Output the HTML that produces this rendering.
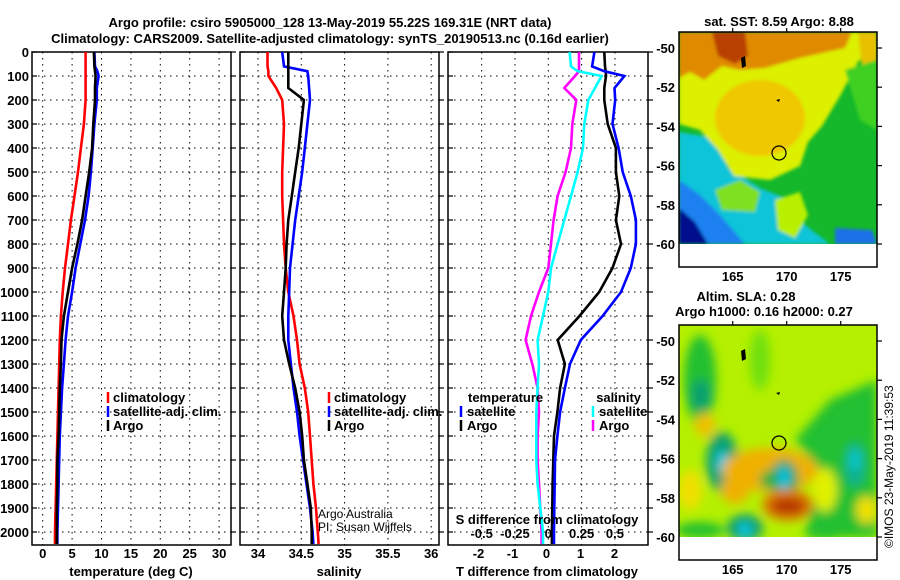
<!DOCTYPE html>
<html><head><meta charset="utf-8"><style>
html,body{margin:0;padding:0;background:#fff;}
svg{display:block;font-family:"Liberation Sans",Arial,sans-serif;}
text{font-weight:bold;font-size:13px;fill:#000;}
text.normal{font-weight:normal;font-size:12px;}
</style></head><body>
<svg id="chart" width="900" height="580" viewBox="0 0 900 580">
<defs>
<filter id="blur1" x="-10%" y="-10%" width="120%" height="120%"><feGaussianBlur stdDeviation="1.5"/></filter>
<filter id="blur2" x="-20%" y="-20%" width="140%" height="140%"><feGaussianBlur stdDeviation="5"/></filter>
<clipPath id="clipTop"><rect x="679" y="32" width="198" height="212"/></clipPath>
<clipPath id="clipBot"><rect x="679" y="325" width="198" height="212"/></clipPath>
</defs>
<text x="330" y="27" text-anchor="middle" font-size="14">Argo profile: csiro 5905000_128 13-May-2019 55.22S 169.31E (NRT data)</text>
<text x="330" y="43" text-anchor="middle" font-size="14">Climatology: CARS2009. Satellite-adjusted climatology: synTS_20190513.nc (0.16d earlier)</text>
<g id="panels"></g>

<!-- Top map -->
<g>
<text x="779" y="26" text-anchor="middle">sat. SST: 8.59 Argo: 8.88</text>
<g clip-path="url(#clipTop)">
<rect x="679" y="32" width="198" height="212" fill="#14b82a"/>
<g filter="url(#blur1)">
<polygon points="679,132 715,138 728,168 760,188 790,200 805,225 830,244 679,244" fill="#10c4d8"/>
<polygon points="679,180 700,195 720,215 745,244 679,244" fill="#1a80f0"/>
<polygon points="679,208 695,222 708,244 679,244" fill="#00108c"/>
<polygon points="835,228 872,230 877,244 835,244" fill="#1a70e8"/>
<polygon points="679,80 679,124 700,130 718,150 734,176 770,180 800,166 808,142 822,126 840,96 858,62 877,44 877,32 679,32" fill="#dcf000"/>
<ellipse cx="760" cy="118" rx="45" ry="38" fill="#f0c800"/>
<polygon points="679,32 852,32 845,48 800,58 765,68 740,70 722,66 704,80 690,72 679,78" fill="#e08a00"/>
<polygon points="712,32 745,32 748,56 735,64 718,56" fill="#b84000"/>
<polygon points="858,32 877,32 877,120 865,95" fill="#e8c000"/>
<polygon points="715,190 740,180 760,192 755,212 722,210" fill="#80e020"/>
<polygon points="775,200 800,192 808,215 795,238 778,230" fill="#b8f000"/>
<polygon points="845,70 877,60 877,130 860,120" fill="#40d020"/>
</g>
</g>
<rect x="679" y="32" width="198" height="235" fill="none" stroke="#000" stroke-width="1.5"/>
<polygon points="741,58 745,56 746,66 742,68" fill="#000"/>
<path d="M776,100 l4,-1 l-1,3z" fill="#000"/>
<circle cx="779" cy="153" r="7" fill="none" stroke="#000" stroke-width="1.2"/>
<g id="topMapAxes"></g>
</g>

<!-- Bottom map -->
<g>
<text x="746" y="301" text-anchor="middle">Altim. SLA: 0.28</text>
<text x="764" y="316" text-anchor="middle">Argo h1000: 0.16 h2000: 0.27</text>
<g clip-path="url(#clipBot)">
<rect x="679" y="325" width="198" height="212" fill="#b4f000"/>
<g filter="url(#blur2)">
<ellipse cx="700" cy="380" rx="16" ry="45" fill="#20c030"/>
<ellipse cx="701" cy="395" rx="10" ry="16" fill="#10a070"/>
<ellipse cx="722" cy="462" rx="16" ry="30" fill="#10a070"/>
<ellipse cx="722" cy="462" rx="6" ry="12" fill="#10c8e0"/>
<ellipse cx="760" cy="360" rx="10" ry="30" fill="#70e010"/>
<polygon points="795,440 830,400 877,380 877,537 805,537 820,470" fill="#20c030"/>
<ellipse cx="855" cy="465" rx="10" ry="22" fill="#10b090"/>
<ellipse cx="855" cy="460" rx="4" ry="10" fill="#10d0e0"/>
<ellipse cx="825" cy="490" rx="12" ry="22" fill="#e0f000"/>
<ellipse cx="770" cy="470" rx="48" ry="22" fill="#f0b000"/>
<ellipse cx="735" cy="490" rx="14" ry="14" fill="#f0b000"/>
<ellipse cx="690" cy="490" rx="12" ry="20" fill="#f0e000"/>
<ellipse cx="705" cy="425" rx="10" ry="12" fill="#f0c000"/>
<ellipse cx="784" cy="478" rx="14" ry="18" fill="#10a060"/>
<ellipse cx="784" cy="478" rx="5" ry="12" fill="#10c8f0"/>
<ellipse cx="768" cy="480" rx="8" ry="9" fill="#20b040"/>
<ellipse cx="788" cy="505" rx="26" ry="16" fill="#e08000"/>
<ellipse cx="788" cy="506" rx="18" ry="9" fill="#b83800"/>
<ellipse cx="745" cy="528" rx="18" ry="14" fill="#10a070"/>
<ellipse cx="745" cy="530" rx="6" ry="8" fill="#10c8e8"/>
<ellipse cx="700" cy="530" rx="25" ry="8" fill="#20c030"/>
<ellipse cx="825" cy="530" rx="20" ry="10" fill="#20c030"/>
<ellipse cx="866" cy="510" rx="10" ry="14" fill="#f0e000"/>
</g>
</g>
<rect x="679" y="325" width="198" height="235" fill="none" stroke="#000" stroke-width="1.5"/>
<polygon points="741,351 745,349 746,359 742,361" fill="#000"/>
<path d="M776,393 l4,-1 l-1,3z" fill="#000"/>
<circle cx="779" cy="443" r="7" fill="none" stroke="#000" stroke-width="1.2"/>
<g id="botMapAxes"></g>
</g>
<text class="normal" x="0" y="0" transform="translate(893,548) rotate(-90)">©IMOS 23-May-2019 11:39:53</text>
</svg>
<script>
// ---- data (depth in m) ----
const depthLevels=[0,60,80,100,150,200,300,400,500,600,700,800,900,1000,1100,1200,1300,1400,1500,1600,1700,1800,1900,2000,2050];
const tempClim=[7.3,7.3,7.3,7.3,7.3,7.3,7.0,6.5,6.0,5.4,4.8,4.3,3.8,3.4,3.1,2.9,2.8,2.7,2.6,2.5,2.4,2.3,2.2,2.1,2.1];
const tempSat=[8.8,8.9,9.3,9.5,9.2,9.2,8.8,8.5,8.2,7.8,7.2,6.4,5.6,5.0,4.3,3.9,3.6,3.3,3.1,2.9,2.8,2.7,2.6,2.5,2.5];
const tempArgo=[8.7,8.8,8.9,9.0,8.9,8.9,8.6,8.4,7.9,7.3,6.7,5.9,5.0,4.3,3.6,3.2,3.1,2.9,2.8,2.7,2.5,2.5,2.4,2.4,2.4];
const salClim=[34.11,34.11,34.12,34.12,34.21,34.28,34.30,34.29,34.28,34.28,34.29,34.30,34.32,34.35,34.41,34.45,34.48,34.54,34.58,34.60,34.62,34.64,34.67,34.69,34.70];
const salSat=[34.28,34.30,34.57,34.58,34.59,34.60,34.57,34.54,34.51,34.47,34.43,34.40,34.37,34.36,34.35,34.35,34.38,34.41,34.45,34.48,34.52,34.56,34.60,34.63,34.64];
const salArgo=[34.35,34.35,34.35,34.35,34.35,34.53,34.50,34.47,34.43,34.39,34.35,34.33,34.32,34.30,34.28,34.30,34.36,34.43,34.48,34.51,34.53,34.57,34.61,34.62,34.62];
const tDiffSat=[1.41,1.34,1.7,2.29,2.0,2.02,1.94,2.12,2.24,2.48,2.63,2.63,2.48,2.19,1.65,1.01,0.69,0.54,0.40,0.32,0.25,0.24,0.23,0.22,0.22];
const tDiffArgo=[1.70,1.72,1.74,1.75,1.70,1.70,1.80,2.04,2.04,2.14,2.04,2.19,1.94,1.55,0.97,0.33,0.54,0.40,0.32,0.22,0.20,0.18,0.17,0.16,0.16];
const sDiffSat=[0.16,0.17,0.22,0.40,0.35,0.30,0.27,0.26,0.22,0.17,0.12,0.07,0.02,0.0,-0.04,-0.08,-0.07,-0.08,-0.09,-0.09,-0.09,-0.08,-0.06,-0.04,-0.04];
const sDiffArgo=[0.23,0.23,0.23,0.20,0.12,0.21,0.18,0.17,0.13,0.07,0.04,0.02,0.0,-0.07,-0.13,-0.17,-0.12,-0.08,-0.07,-0.08,-0.08,-0.07,-0.06,-0.05,-0.05];
const depthTicks=[0,100,200,300,400,500,600,700,800,900,1000,1100,1200,1300,1400,1500,1600,1700,1800,1900,2000];
const tempTicks=[0,5,10,15,20,25,30];
const salTicks=[34,34.5,35,35.5,36];
const tDiffTicks=[-2,-1,0,1,2];
const sDiffTicks=[-0.5,-0.25,0,0.25,0.5];
const sDiffTickLabels=["-0.5","-0.25","0","0.25","0.5"];
const latTicks=[-50,-52,-54,-56,-58,-60];
const lonTicks=[165,170,175];

const NS="http://www.w3.org/2000/svg";
const g=document.getElementById('panels');
function el(tag,attrs,parent){const e=document.createElementNS(NS,tag);for(const k in attrs)e.setAttribute(k,attrs[k]);(parent||g).appendChild(e);return e;}
const TOP=52,BOT=545;
const yD=d=>52+d*0.24;
const xT=t=>42.7+t*5.88;
const xS=s=>258+(s-34)*86.6;
const xTD=t=>546.5+t*34;
const xSD=s=>548.3+s*133.3;
const panels=[{x0:32,x1:231,name:'temperature-panel'},{x0:240,x1:439,name:'salinity-panel'},{x0:448,x1:648,name:'difference-panel'}];

panels.forEach((p,i)=>{
  const pg=el('g',{});
  
  
  depthTicks.forEach(d=>{
    const gl=el('line',{x1:p.x0,x2:p.x1,y1:yD(d),y2:yD(d),stroke:'#000','stroke-width':1,'stroke-dasharray':'1.5,4.5'},pg);
    
    
    el('line',{x1:p.x0,x2:p.x0+5,y1:yD(d),y2:yD(d),stroke:'#000','stroke-width':1.2},pg);
    el('line',{x1:p.x1,x2:p.x1+5,y1:yD(d),y2:yD(d),stroke:'#000','stroke-width':1.2},pg);
  });
  let vx=i===0?tempTicks.map(xT):i===1?salTicks.map(xS):sDiffTicks.map(xSD);
  vx.forEach(x=>{
    const gl=el('line',{x1:x,x2:x,y1:TOP,y2:BOT,stroke:'#000','stroke-width':1,'stroke-dasharray':'1.5,4.5'},pg);
    
    
  });
  const fr=el('rect',{x:p.x0,y:TOP,width:p.x1-p.x0,height:BOT-TOP,fill:'none',stroke:'#000','stroke-width':1.5},pg);
  
  
});
depthTicks.forEach(d=>{
  const t=el('text',{x:29,y:yD(d)+5,'text-anchor':'end'});t.textContent=d;
  
  
});
function series(vals,xf,color,name){
  const pts=vals.map((v,i)=>xf(v).toFixed(1)+','+yD(depthLevels[i]).toFixed(1)).join(' ');
  const l=el('polyline',{points:pts,fill:'none',stroke:color,'stroke-width':2.6,'stroke-linejoin':'miter'});
  
  
}
series(tempClim,xT,'#ff0000','temp-climatology-line');
series(tempSat,xT,'#0000ff','temp-satellite-line');
series(tempArgo,xT,'#000','temp-argo-line');
series(salClim,xS,'#ff0000','sal-climatology-line');
series(salSat,xS,'#0000ff','sal-satellite-line');
series(salArgo,xS,'#000','sal-argo-line');
series(sDiffArgo,xSD,'#ff00ff','sdiff-argo-line');
series(sDiffSat,xSD,'#00ffff','sdiff-satellite-line');
series(tDiffArgo,xTD,'#000','tdiff-argo-line');
series(tDiffSat,xTD,'#0000ff','tdiff-satellite-line');

function label(x,y,txt,name,anchor,cls){
  const t=el('text',{x:x,y:y,'text-anchor':anchor||'middle'});t.textContent=txt;
  if(cls)t.setAttribute('class',cls);
  
  
  return t;
}
tempTicks.forEach(v=>label(xT(v),558,v,'temp-tick-label'));
salTicks.forEach(v=>label(xS(v),558,v,'salinity-tick-label'));
tDiffTicks.forEach(v=>label(xTD(v),558,v,'tdiff-tick-label'));
sDiffTicks.forEach((v,i)=>label(xSD(v),538,sDiffTickLabels[i],'sdiff-tick-label'));
label(131,576,'temperature (deg C)','temp-axis-title');
label(339,576,'salinity','salinity-axis-title');
label(547,576,'T difference from climatology','tdiff-axis-title');
label(547,524,'S difference from climatology','sdiff-axis-title');
label(318,518,'Argo Australia','credit-line-1','start','normal');
label(318,531,'PI: Susan Wijffels','credit-line-2','start','normal');

function legendEntry(mx,tx,y,color,txt,anchor){
  const m=el('line',{x1:mx,x2:mx,y1:y-10,y2:y+1,stroke:color,'stroke-width':2.5});
  
  
  label(tx,y,txt,'legend-entry',anchor||'start');
}
legendEntry(108,113,402,'#ff0000','climatology');
legendEntry(108,113,416,'#0000ff','satellite-adj. clim.');
legendEntry(108,113,430,'#000','Argo');
legendEntry(329,334,402,'#ff0000','climatology');
legendEntry(329,334,416,'#0000ff','satellite-adj. clim.');
legendEntry(329,334,430,'#000','Argo');
label(468,402,'temperature','legend-temperature-heading','start');
legendEntry(461,467,416,'#0000ff','satellite');
legendEntry(461,467,430,'#000','Argo');
label(641,402,'salinity','legend-salinity-heading','end');
legendEntry(593,599,416,'#00ffff','satellite');
legendEntry(593,599,430,'#ff00ff','Argo');

// map axes
function mapAxes(gid,top){
  const mg=document.getElementById(gid);
  const yl=lat=>top+16+(-50-lat)*19.6;
  const xl=lon=>732.7+(lon-165)*10.8;
  latTicks.forEach(l=>{
    el('line',{x1:877,x2:882,y1:yl(l),y2:yl(l),stroke:'#000','stroke-width':1.2},mg);
    const t=el('text',{x:675,y:yl(l)+5,'text-anchor':'end'},mg);t.textContent=l;
    
    
  });
  lonTicks.forEach(l=>{
    el('line',{x1:xl(l),x2:xl(l),y1:top-4,y2:top,stroke:'#000','stroke-width':1.2},mg);
    const t=el('text',{x:xl(l),y:top+249,'text-anchor':'middle'},mg);t.textContent=l;
    
    
  });
}
mapAxes('topMapAxes',32);
mapAxes('botMapAxes',325);
</script>
</body></html>
